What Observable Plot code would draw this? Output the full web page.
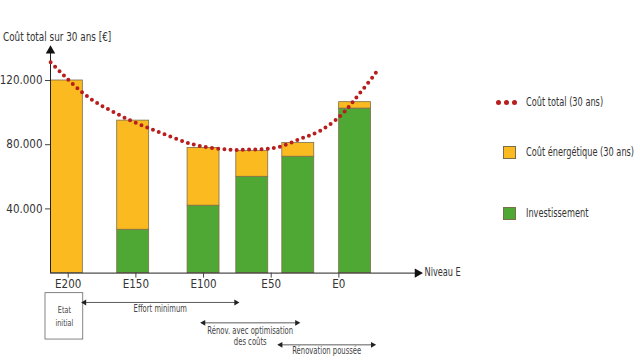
<!DOCTYPE html>
<html>
<head>
<meta charset="utf-8">
<script src="https://cdn.jsdelivr.net/npm/d3@7"></script>
<script src="https://cdn.jsdelivr.net/npm/@observablehq/plot@0.6"></script>
<style>
  html, body { margin: 0; padding: 0; background: #fff; }
  #wrap { position: relative; width: 640px; height: 360px; overflow: hidden;
          font-family: "DejaVu Sans Condensed", "Liberation Sans", sans-serif; color: #333; }
  #ylabel { position: absolute; left: 3px; top: 30px; font-size: 12px; white-space: nowrap;
            transform: scaleX(0.82); transform-origin: left center; }
  .leg { position: absolute; left: 496px; font-size: 12px; display: flex; align-items: center; white-space: nowrap; }
  .leg .sw { width: 13px; height: 13px; border: 1px solid #7b6f4a; margin: 0 10px 0 7px; box-sizing: border-box; flex: none; }
  .leg .dots { display: flex; gap: 3px; margin-right: 9px; flex: none; }
  .leg .dots span { width: 5px; height: 5px; border-radius: 50%; background: #b81e1e; display: block; }
  .leg .t { display: inline-block; transform: scaleX(0.76); transform-origin: left center; }
</style>
</head>
<body>
<div id="wrap">
  <div id="chart"></div>
  <div id="ylabel">Coût total sur 30 ans [€]</div>
  <div class="leg" style="top:95px"><div class="dots"><span></span><span></span><span></span></div><span class="t">Coût total (30 ans)</span></div>
  <div class="leg" style="top:145px"><div class="sw" style="background:#fbba1f"></div><span class="t">Coût énergétique (30 ans)</span></div>
  <div class="leg" style="top:206px"><div class="sw" style="background:#50a834"></div><span class="t">Investissement</span></div>
</div>
<script>
// ---- data ----
const levels = ["E200", "E150", "E100", "E65", "E30", "E-10"];
const levelPos = [201, 152, 100, 64, 30, -12];
const investment = [0, 27000, 42000, 60000, 72500, 102500];
const energy = [120000, 68000, 36000, 16000, 8500, 4000];

const curveE = [213, 198, 183.5, 168.7, 154, 139.2, 124.4, 109.6, 94.9, 80, 72.7, 57.9, 43.1, 28.3, 13.5, -1.3, -11.1, -21, -29.6];
const curveV = [131400, 118900, 108600, 101300, 95100, 89900, 85100, 80600, 78100, 76800, 76800, 77200, 78900, 83700, 88800, 98200, 107500, 117900, 127300];

const xTicks = [200, 150, 100, 50, 0];
const yTicks = [40000, 80000, 120000];

const spans = [
  {label: "Effort minimum", from: 188, to: 76, row: 0},
  {label: "Rénov. avec optimisation", label2: "des coûts", from: 100, to: 31, row: 1},
  {label: "Rénovation poussée", from: 43, to: -25, row: 2}
];
const initialBox = {label: "Etat", label2: "initial", from: 216.8, to: 188.9};

// ---- tables ----
const bars = levels.map((l, i) => ({level: l, pos: levelPos[i], inv: investment[i], en: energy[i]}));
const curve = curveE.map((e, i) => ({e, v: curveV[i]}));

const xDomain = [213.1, -58.1];
const hw = 11.8;
const yTop = 141000;
const rowY = [-18300, -31000, -44700];
const rowText = [-22300, -35800, -48700];

const fmt = d => d3.format(",")(d).replace(/,/g, ".");
const FONT = '"DejaVu Sans Condensed", "Liberation Sans", sans-serif';
const barStroke = "#7b6f4a";

const arrowHeads = spans.flatMap(s => [
  {x: s.from, row: s.row, rot: s.from > s.to ? -90 : 90},
  {x: s.to, row: s.row, rot: s.from > s.to ? 90 : -90}
]);

const chart = Plot.plot({
  width: 640,
  height: 360,
  marginLeft: 50,
  marginRight: 223,
  marginTop: 46,
  marginBottom: 87.4,
  style: {fontFamily: FONT, color: "#333", background: "transparent", overflow: "visible"},
  x: {domain: xDomain, range: [50, 417]},
  y: {domain: [0, 120000], range: [272.6, 80]},
  marks: [
    // bars
    Plot.rectY(bars.filter(d => d.inv > 0), {x1: d => d.pos + hw, x2: d => d.pos - hw, y1: 0, y2: "inv", fill: "#50a834", stroke: barStroke, strokeWidth: 0.8}),
    Plot.rectY(bars, {x1: d => d.pos + hw, x2: d => d.pos - hw, y1: "inv", y2: d => d.inv + d.en, fill: "#fbba1f", stroke: barStroke, strokeWidth: 0.8}),
    // axes lines with arrows
    Plot.ruleX([xDomain[0]], {y1: 0, y2: yTop - 2000, stroke: "#222", strokeWidth: 1}),
    Plot.dot([xDomain[0]], {x: d => d, y: yTop - 2500, symbol: "triangle", r: 3.5, fill: "#111", stroke: null}),
    Plot.ruleY([0], {x1: xDomain[0], x2: xDomain[1], stroke: "#222", strokeWidth: 1}),
    Plot.dot([0], {x: xDomain[1], y: d => d, symbol: "triangle", r: 3.5, rotate: 90, fill: "#111", stroke: null}),
    Plot.axisX({ticks: xTicks, tickFormat: d => "E" + d, tickSize: 5, tickPadding: 2, fontSize: 11.5, label: null, stroke: "#444"}),
    Plot.axisY({ticks: yTicks, tickFormat: fmt, tickSize: 5, tickPadding: 3, fontSize: 11.5, label: null, stroke: "#444"}),
    Plot.text(["Niveau E"], {x: xDomain[1], y: 0, dx: 7, dy: -1, textAnchor: "start", fontSize: 12, fill: "#333", ariaDescription: "narrow"}),
    // total cost curve (dotted)
    Plot.line(curve, {x: "e", y: "v", curve: "natural", stroke: "#b81e1e", strokeWidth: 4, strokeDasharray: "0 6.2", strokeLinecap: "round"}),
    // annotations below axis
    Plot.rect([initialBox], {x1: "from", x2: "to", y1: -12500, y2: -41400, fill: "none", stroke: "#666", strokeWidth: 0.8}),
    Plot.text([initialBox], {x: d => (d.from + d.to) / 2, y: -22700, text: "label", fontSize: 9.5, fill: "#444", ariaDescription: "narrow"}),
    Plot.text([initialBox], {x: d => (d.from + d.to) / 2, y: -30800, text: "label2", fontSize: 9.5, fill: "#444", ariaDescription: "narrow"}),
    Plot.link(spans, {x1: "from", x2: "to", y1: d => rowY[d.row], y2: d => rowY[d.row], stroke: "#333", strokeWidth: 0.8}),
    Plot.dot(arrowHeads, {x: "x", y: d => rowY[d.row], symbol: "triangle", r: 2.2, rotate: "rot", fill: "#222", stroke: null}),
    Plot.text(spans, {x: d => (d.from + d.to) / 2, y: d => rowText[d.row], text: "label", fontSize: 10, fill: "#444", ariaDescription: "narrow"}),
    Plot.text(spans.filter(d => d.label2), {x: d => (d.from + d.to) / 2, y: d => rowText[d.row] - 7300, text: "label2", fontSize: 10, fill: "#444", ariaDescription: "narrow"})
  ]
});
// condense annotation text horizontally around its anchor point
d3.select(chart).selectAll('g[aria-description="narrow"] text').each(function() {
  const el = this;
  const x = +(el.getAttribute("x") || 0);
  const t = el.getAttribute("transform") || "";
  el.setAttribute("transform", `${t} translate(${x},0) scale(0.76,1) translate(${-x},0)`);
});
document.getElementById("chart").appendChild(chart);
</script>
</body>
</html>
